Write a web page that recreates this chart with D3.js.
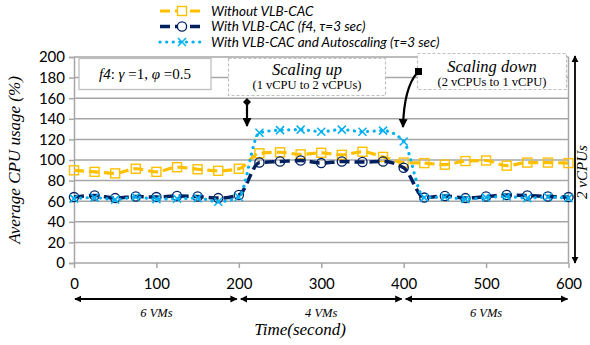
<!DOCTYPE html>
<html><head><meta charset="utf-8">
<script src="https://cdn.jsdelivr.net/npm/d3@7"></script>
<style>
html,body{margin:0;padding:0;background:#fff;}
svg{display:block;}
</style></head>
<body>
<svg id="chart" width="590" height="345"></svg>
<script>
// ---- data ----
const times = [0,25,50,75,100,125,150,175,200,225,250,275,300,325,350,375,400,425,450,475,500,525,550,575,600];
const withoutVLB = [90,88.5,87,91.5,88.5,93,91,89.5,91.5,106.5,107.5,105.5,107,105,108,103,97.5,97,95.5,99,99.5,94.5,97.5,97.5,97];
const withVLB = [64,65.5,63,64.5,64,65,64.5,63,66,97.5,98.5,99.5,97,98.5,98,98.5,92.5,63.5,65,63,64.5,66,65.5,64.5,64];
const withAuto = [62.5,63.5,61.5,64,62,62.5,63,59.5,64,126.5,129,129.5,127.5,129.5,127.5,128.5,118,63.5,64,62,63.5,64.5,63,64,63];
const yTicks = [0,20,40,60,80,100,120,140,160,180,200];
const xTicks = [0,100,200,300,400,500,600];
const seriesNames = ["Without VLB-CAC","With VLB-CAC (f4, \u03C4=3 sec)","With VLB-CAC and Autoscaling (\u03C4=3 sec)"];
const vmSegments = [[0,200,"6 VMs"],[200,400,"4 VMs"],[400,600,"6 VMs"]];

const svg = d3.select("#chart");
const x = d3.scaleLinear().domain([0,600]).range([74,568.5]);
const y = d3.scaleLinear().domain([0,200]).range([263,57]);

const grid = "#a6a6a6";
const sans = "Lato, 'Liberation Sans', sans-serif";
const serif = "'Liberation Serif', 'Times New Roman', serif";

// arrow markers
const defs = svg.append("defs");
function arrowMarker(id){
  defs.append("marker").attr("id",id).attr("viewBox","0 0 10 10")
    .attr("refX",9).attr("refY",5).attr("markerWidth",4).attr("markerHeight",4)
    .attr("orient","auto-start-reverse").attr("markerUnits","strokeWidth")
    .append("path").attr("d","M0,0 L10,5 L0,10 z").attr("fill","#000");
}
arrowMarker("arr");

// gridlines
svg.append("g").selectAll("line").data(yTicks.filter(d=>d>0)).join("line")
  .attr("x1",x(0)).attr("x2",x(600)).attr("y1",d=>y(d)).attr("y2",d=>y(d))
  .attr("stroke",grid).attr("stroke-width",1.5);

// right border
svg.append("line").attr("x1",x(600)).attr("x2",x(600)).attr("y1",y(200)).attr("y2",y(0))
  .attr("stroke",grid).attr("stroke-width",1.5);

// y axis
const yAxis = svg.append("g").attr("transform",`translate(${x(0)},0)`)
  .call(d3.axisLeft(y).tickValues(yTicks).tickSize(5).tickPadding(4));
yAxis.select(".domain").attr("stroke",grid).attr("stroke-width",1.5);
yAxis.selectAll(".tick line").attr("stroke",grid).attr("stroke-width",1.5);
yAxis.selectAll("text").attr("font-family",sans).attr("font-size",15).attr("fill","#000");

// x axis
const xAxis = svg.append("g").attr("transform",`translate(0,${y(0)})`)
  .call(d3.axisBottom(x).tickValues(xTicks).tickSize(5).tickPadding(10));
xAxis.select(".domain").attr("stroke",grid).attr("stroke-width",1.5).attr("d",`M${x(0)},0H${x(600)}`);
xAxis.selectAll(".tick line").attr("stroke",grid).attr("stroke-width",1.5);
xAxis.selectAll("text").attr("font-family",sans).attr("font-size",15).attr("fill","#000");

// axis titles
svg.append("text").attr("transform",`translate(20,${y(100)}) rotate(-90)`)
  .attr("text-anchor","middle").attr("font-family",serif).attr("font-style","italic")
  .attr("font-size",17).text("Average CPU usage (%)");
svg.append("text").attr("x",300).attr("y",335).attr("text-anchor","middle")
  .attr("font-family",serif).attr("font-style","italic").attr("font-size",17).text("Time(second)");

// VM segment arrows
const vmG = svg.append("g");
vmSegments.forEach(([a,b,lab],i)=>{
  vmG.append("line").attr("x1",x(a)+(i===0?1:2)).attr("x2",x(b)-(i===2?1:2)).attr("y1",299).attr("y2",299)
    .attr("stroke","#000").attr("stroke-width",1.8)
    .attr("marker-start","url(#arr)").attr("marker-end","url(#arr)");
  vmG.append("text").attr("x",(x(a)+x(b))/2).attr("y",317).attr("text-anchor","middle")
    .attr("font-family",serif).attr("font-style","italic").attr("font-size",12.5).text(lab);
});

// series
const line = d3.line().x((d,i)=>x(times[i])).y(d=>y(d)).curve(d3.curveMonotoneX);
const colY = "#FFC000", colN = "#002060", colB = "#00B0F0";

svg.append("path").attr("d",line(withoutVLB)).attr("fill","none").attr("stroke",colY)
  .attr("stroke-width",3.2).attr("stroke-dasharray","10,5");
svg.append("g").selectAll("rect").data(withoutVLB).join("rect")
  .attr("x",(d,i)=>x(times[i])-4.5).attr("y",d=>y(d)-4.5).attr("width",9).attr("height",9)
  .attr("fill","none").attr("stroke",colY).attr("stroke-width",1.4);

svg.append("path").attr("d",line(withVLB)).attr("fill","none").attr("stroke",colN)
  .attr("stroke-width",3.5).attr("stroke-dasharray","10,5");
svg.append("g").selectAll("circle").data(withVLB).join("circle")
  .attr("cx",(d,i)=>x(times[i])).attr("cy",d=>y(d)).attr("r",4.6)
  .attr("fill","none").attr("stroke",colN).attr("stroke-width",1.3);

svg.append("path").attr("d",line(withAuto)).attr("fill","none").attr("stroke",colB)
  .attr("stroke-width",3.2).attr("stroke-dasharray","0.1,6.5").attr("stroke-linecap","round");
const cross = (cx,cy,s)=>`M${cx-s},${cy-s}L${cx+s},${cy+s}M${cx-s},${cy+s}L${cx+s},${cy-s}`;
svg.append("g").selectAll("path").data(withAuto).join("path")
  .attr("d",(d,i)=>cross(x(times[i]),y(d),4)).attr("stroke",colB).attr("stroke-width",1.5);

// legend
const legY = [11,26.5,42];
const leg = svg.append("g");
[[colY,"10,5",3.2,"butt"],[colN,"10,5",3.5,"butt"],[colB,"0.1,6.5",3.2,"round"]].forEach(([c,da,w,cap],i)=>{
  leg.append("line").attr("x1",160).attr("x2",201).attr("y1",legY[i]).attr("y2",legY[i])
    .attr("stroke",c).attr("stroke-width",w).attr("stroke-dasharray",da).attr("stroke-linecap",cap);
  const mx = 182, my = legY[i];
  if(i===0) leg.append("rect").attr("x",mx-4.5).attr("y",my-4.5).attr("width",9).attr("height",9)
      .attr("fill","#fff").attr("stroke",c).attr("stroke-width",1.4);
  if(i===1) leg.append("circle").attr("cx",mx).attr("cy",my).attr("r",4.6).attr("fill","#fff").attr("stroke",c).attr("stroke-width",1.3);
  if(i===2) leg.append("path").attr("d",cross(mx,my,4)).attr("stroke",c).attr("stroke-width",1.5);
  leg.append("text").attr("x",211).attr("y",legY[i]+4.5).attr("font-family",sans)
    .attr("font-style","italic").attr("font-size",13.5).text(seriesNames[i]);
});

// annotation: f4 box
svg.append("rect").attr("x",79).attr("y",58.5).attr("width",132).attr("height",31)
  .attr("fill","#fff").attr("stroke","#bfbfbf").attr("stroke-width",1.3);
const f4 = svg.append("text").attr("x",145).attr("y",79).attr("text-anchor","middle")
  .attr("font-family",serif).attr("font-size",15);
f4.append("tspan").attr("font-style","italic").text("f4");
f4.append("tspan").text(": ");
f4.append("tspan").attr("font-style","italic").text("\u03B3");
f4.append("tspan").text(" =1, ");
f4.append("tspan").attr("font-style","italic").text("\u03C6");
f4.append("tspan").text(" =0.5");

// scaling up box
svg.append("rect").attr("x",228.5).attr("y",58.5).attr("width",157).attr("height",37)
  .attr("fill","#fff").attr("stroke","#bfbfbf").attr("stroke-width",1.2).attr("stroke-dasharray","3,2");
svg.append("text").attr("x",307).attr("y",75).attr("text-anchor","middle").attr("font-family",serif)
  .attr("font-style","italic").attr("font-size",16.5).text("Scaling up");
svg.append("text").attr("x",307).attr("y",89).attr("text-anchor","middle").attr("font-family",serif)
  .attr("font-size",12.5).text("(1 vCPU to 2 vCPUs)");

// scaling down box
svg.append("rect").attr("x",417.5).attr("y",53.5).attr("width",149).attr("height",36)
  .attr("fill","#fff").attr("stroke","#bfbfbf").attr("stroke-width",1.2).attr("stroke-dasharray","3,2");
svg.append("text").attr("x",492).attr("y",72).attr("text-anchor","middle").attr("font-family",serif)
  .attr("font-style","italic").attr("font-size",16.5).text("Scaling down");
svg.append("text").attr("x",492).attr("y",85.5).attr("text-anchor","middle").attr("font-family",serif)
  .attr("font-size",12.5).text("(2 vCPUs to 1 vCPU)");

// arrow 1 (scaling up)
svg.append("path").attr("d","M247,98 L243,102 L247,106 L251,102 Z").attr("fill","#000");
svg.append("line").attr("x1",247).attr("x2",247).attr("y1",100).attr("y2",126)
  .attr("stroke","#000").attr("stroke-width",2.2).attr("marker-end","url(#arr)");

// arrow 2 (scaling down)
svg.append("rect").attr("x",415).attr("y",68).attr("width",7).attr("height",7).attr("fill","#000");
svg.append("path").attr("d","M417,73 Q404,88 403,127").attr("fill","none")
  .attr("stroke","#000").attr("stroke-width",2.2).attr("marker-end","url(#arr)");

// right 2 vCPUs arrow
svg.append("line").attr("x1",575).attr("x2",575).attr("y1",56).attr("y2",263)
  .attr("stroke","#000").attr("stroke-width",1.8)
  .attr("marker-start","url(#arr)").attr("marker-end","url(#arr)");
svg.append("text").attr("transform","translate(587,172) rotate(-90)").attr("text-anchor","middle")
  .attr("font-family",serif).attr("font-style","italic").attr("font-size",15).text("2 vCPUs");
</script>
</body></html>
